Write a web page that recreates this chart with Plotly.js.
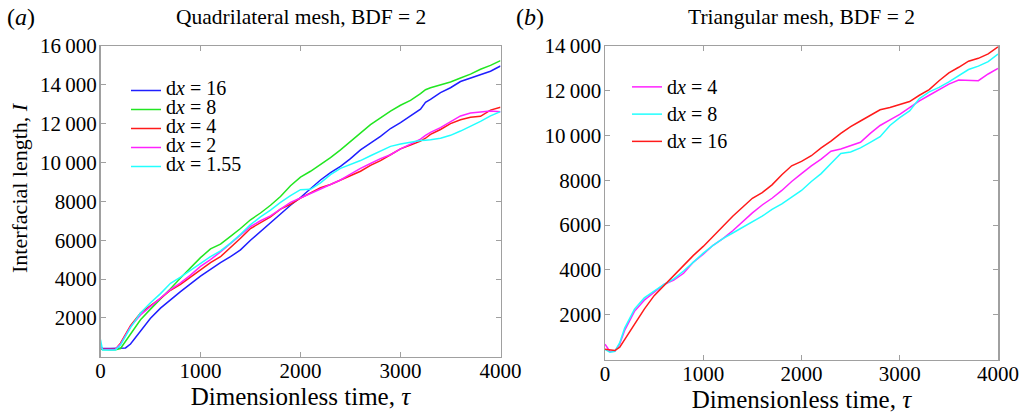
<!DOCTYPE html>
<html><head><meta charset="utf-8">
<script src="https://cdn.plot.ly/plotly-3.0.1.min.js"></script>
<style>
html,body{margin:0;padding:0;background:#fff}
#chart{width:1028px;height:419px}
#chart text{font-family:'Liberation Serif','Times New Roman',serif !important;}
</style>
</head><body><div id="chart"></div>
<script>
// ---------- Panel (a): quadrilateral mesh ----------
const tauQuad = [0,20,100,150,200,250,300,400,500,600,700,800,900,1000,1100,1200,1300,1400,1500,1600,1700,1800,1900,2000,2100,2200,2300,2400,2500,2600,2700,2800,2900,3000,3100,3200,3250,3300,3400,3500,3600,3700,3800,3900,4000];
const quadDx16 = [520,430,420,420,420,450,650,1300,1980,2500,2950,3350,3750,4150,4500,4850,5150,5500,6000,6450,6900,7400,7800,8200,8650,9100,9480,9800,10200,10650,11000,11350,11750,12050,12400,12750,13100,13250,13600,13850,14170,14350,14520,14700,14970];
const quadDx8  = [420,370,360,360,420,800,1200,1900,2450,2950,3500,4050,4600,5100,5550,5800,6200,6600,7050,7400,7800,8250,8800,9250,9550,9900,10250,10650,11100,11550,11950,12300,12650,12950,13200,13550,13750,13850,14000,14150,14350,14550,14800,15000,15250];
const quadDx4  = [500,400,380,390,700,1150,1600,2250,2620,3000,3420,3730,4100,4480,4850,5150,5600,6100,6600,6900,7200,7600,7850,8170,8450,8700,8870,9100,9300,9550,9850,10100,10400,10700,10900,11100,11250,11450,11700,12000,12200,12330,12380,12700,12850];
const quadDx2  = [480,390,370,380,650,1100,1550,2150,2600,3050,3450,3800,4200,4650,5000,5400,5850,6250,6700,7000,7250,7600,7950,8170,8400,8600,8850,9100,9400,9700,9950,10200,10400,10700,10950,11200,11400,11550,11800,12100,12400,12550,12600,12650,12620];
const quadDx155= [880,350,340,350,600,1050,1500,2250,2780,3250,3780,4100,4450,4830,5150,5450,5850,6300,6800,7200,7550,7950,8300,8600,8620,8950,9380,9700,9900,10100,10350,10600,10830,10950,11050,11130,11150,11170,11250,11400,11620,11850,12120,12400,12620];
const quadNames = ['d<i>x</i> = 16','d<i>x</i> = 8','d<i>x</i> = 4','d<i>x</i> = 2','d<i>x</i> = 1.55'];

// ---------- Panel (b): triangular mesh ----------
const tauTri = [0,50,100,150,200,300,400,500,600,700,800,900,1000,1100,1200,1300,1400,1500,1600,1700,1800,1900,2000,2100,2200,2300,2400,2500,2600,2700,2800,2900,3000,3100,3200,3300,3400,3500,3600,3700,3800,3900,4000];
const triDx4  = [680,360,370,700,1300,2150,2650,3000,3350,3550,3850,4350,4700,5100,5400,5750,6150,6550,6900,7200,7550,7950,8300,8650,8950,9300,9400,9550,9700,10100,10450,10700,10950,11250,11550,11800,12050,12300,12480,12480,12450,12750,13000];
const triDx8  = [450,320,360,750,1400,2250,2750,3050,3350,3600,3950,4350,4750,5100,5400,5650,5900,6150,6400,6700,6950,7250,7550,7950,8300,8750,9200,9270,9450,9700,9950,10450,10800,11100,11650,11950,12150,12400,12680,12950,13100,13300,13640];
const triDx16 = [460,430,400,550,900,1600,2250,2850,3300,3750,4200,4650,5050,5500,5950,6400,6800,7200,7450,7800,8250,8650,8850,9100,9450,9750,10100,10400,10650,10900,11150,11250,11370,11520,11800,12050,12450,12800,13050,13320,13450,13650,13960];
const triNames = ['d<i>x</i> = 4','d<i>x</i> = 8','d<i>x</i> = 16'];

// ---------- ticks ----------
const xTickVals = [0,1000,2000,3000,4000];
const xTickText = ['0','1000','2000','3000','4000'];
const yTickValsQuad = [2000,4000,6000,8000,10000,12000,14000,16000];
const yTickTextQuad = ['2000','4000','6000','8000','10\u2009000','12\u2009000','14\u2009000','16\u2009000'];
const yTickValsTri = [2000,4000,6000,8000,10000,12000,14000];
const yTickTextTri = ['2000','4000','6000','8000','10\u2009000','12\u2009000','14\u2009000'];

const FONT = "'Liberation Serif', 'Times New Roman', serif";
const W = 1028, H = 419;
const px = v => v / W, py = v => 1 - v / H;
const big = s => '<span style="font-size:20px">' + s + '</span>';

const quadColors = ['#1f1fff','#22e622','#ff1a1a','#ff22ff','#22ffff'];
const triColors = ['#ff22ff','#22ffff','#ff1a1a'];
const quadSeries = [quadDx16, quadDx8, quadDx4, quadDx2, quadDx155];
const triSeries = [triDx4, triDx8, triDx16];

const traces = [];
quadSeries.forEach((ys, i) => traces.push({
  x: tauQuad, y: ys, type: 'scatter', mode: 'lines', name: big(quadNames[i]),
  line: {color: quadColors[i], width: 1.5}, xaxis: 'x', yaxis: 'y', legend: 'legend'
}));
triSeries.forEach((ys, i) => traces.push({
  x: tauTri, y: ys, type: 'scatter', mode: 'lines', name: big(triNames[i]), legendgroup: 'tri' + i,
  line: {color: triColors[i], width: 1.5}, xaxis: 'x2', yaxis: 'y2', legend: 'legend2'
}));

const axisCommon = {
  showgrid: false, zeroline: false, showline: true, linecolor: '#a0a0a0', linewidth: 1.5,
  mirror: 'ticks', ticks: 'inside', ticklen: 5, tickcolor: '#a0a0a0', tickwidth: 1,
  tickfont: {family: FONT, size: 21, color: '#000'}, tickmode: 'array'
};
const xTitle = {text: 'Dimensionless time, <i>τ</i>', font: {family: FONT, size: 25, color: '#000'}, standoff: 1};

const layout = {
  width: W, height: H,
  margin: {l: 0, r: 0, t: 0, b: 0},
  paper_bgcolor: '#fff', plot_bgcolor: '#fff',
  font: {family: FONT, color: '#000'},
  showlegend: true,
  xaxis: Object.assign({}, axisCommon, {domain: [px(100.5), px(500.5)], range: [0, 4000], anchor: 'y',
    tickvals: xTickVals, ticktext: xTickText, ticklabelstandoff: -5, title: xTitle}),
  yaxis: Object.assign({}, axisCommon, {domain: [py(356.7), py(46)], range: [0, 16000], anchor: 'x',
    tickvals: yTickValsQuad, ticktext: yTickTextQuad, ticklabelstandoff: -2}),
  xaxis2: Object.assign({}, axisCommon, {domain: [px(605), px(998)], range: [0, 4000], anchor: 'y2',
    tickvals: xTickVals, ticktext: xTickText, ticklabelstandoff: -5, title: xTitle}),
  yaxis2: Object.assign({}, axisCommon, {domain: [py(359.5), py(46)], range: [0, 14000], anchor: 'x2',
    tickvals: yTickValsTri, ticktext: yTickTextTri, ticklabelstandoff: -2}),
  legend: {x: px(126), y: py(76), xanchor: 'left', yanchor: 'top', bgcolor: 'rgba(0,0,0,0)',
    font: {family: FONT, size: 11.5, color: '#000'}, itemwidth: 30, tracegroupgap: 0},
  legend2: {x: px(627), y: py(69), xanchor: 'left', yanchor: 'top', bgcolor: 'rgba(0,0,0,0)',
    font: {family: FONT, size: 17.5, color: '#000'}, itemwidth: 30, tracegroupgap: 1.5},
  annotations: [
    {text: '(<i>a</i>)', x: px(5), y: py(17), xref: 'paper', yref: 'paper', xanchor: 'left', yanchor: 'middle', showarrow: false, font: {family: FONT, size: 24}},
    {text: 'Quadrilateral mesh, BDF = 2', x: px(300.5), y: py(17), xref: 'paper', yref: 'paper', xanchor: 'center', yanchor: 'middle', showarrow: false, font: {family: FONT, size: 21.5}},
    {text: '(<i>b</i>)', x: px(514), y: py(17), xref: 'paper', yref: 'paper', xanchor: 'left', yanchor: 'middle', showarrow: false, font: {family: FONT, size: 24}},
    {text: 'Triangular mesh, BDF = 2', x: px(801.5), y: py(17), xref: 'paper', yref: 'paper', xanchor: 'center', yanchor: 'middle', showarrow: false, font: {family: FONT, size: 21.5}},
    {text: 'Interfacial length, <i>I</i>', x: px(19), y: py(188), xref: 'paper', yref: 'paper', xanchor: 'center', yanchor: 'middle', textangle: -90, showarrow: false, font: {family: FONT, size: 22}}
  ]
};

Plotly.newPlot('chart', traces, layout, {displayModeBar: false, staticPlot: true});
</script></body></html>
